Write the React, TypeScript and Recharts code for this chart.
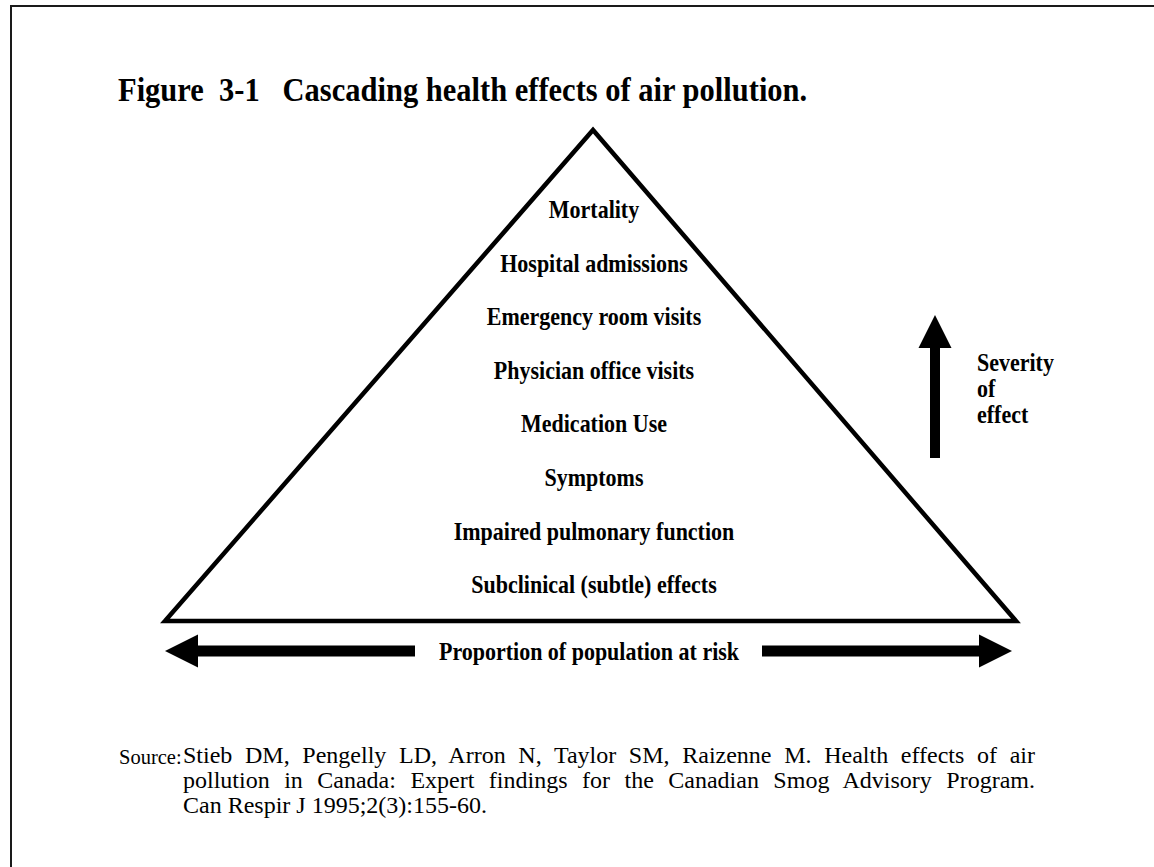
import { ComposedChart, Line, Scatter, XAxis, YAxis } from "recharts";

const WIDTH = 1154;
const HEIGHT = 867;

// pyramid outline: walked round once, then the first edge again so every corner is mitred
const pyramidX = [165, 593, 1016, 165, 593];
const pyramidY = [621, 130, 621, 621, 130];

const effectLabels = [
  "Mortality",
  "Hospital admissions",
  "Emergency room visits",
  "Physician office visits",
  "Medication Use",
  "Symptoms",
  "Impaired pulmonary function",
  "Subclinical (subtle) effects",
];
const effectBaselines = [218, 272, 325, 379, 432, 486, 540, 593];
const effectCenterX = 594;

const severityLines = ["Severity", "of", "effect"];
const severityBaselines = [371, 397, 423];
const severityX = 977;

const populationLabel = "Proportion of population at risk";
const populationX = 589;
const arrowRowY = 651;

// arrow shafts (tail -> base of head)
const leftShaftX = [415, 197];
const rightShaftX = [762, 980];
const upShaftX = 935;
const upShaftY = [458, 346];

// arrow tips
const arrowTips = [
  { x: 165, y: 651, dir: "left" },
  { x: 1012, y: 651, dir: "right" },
  { x: 935, y: 315, dir: "up" },
];

const titleText = "Figure  3-1   Cascading health effects of air pollution.";
const titleX = 118;
const titleBaseline = 101;

const sourceLabel = "Source:";
const sourceLines = [
  "Stieb DM, Pengelly LD, Arron N, Taylor SM, Raizenne M.  Health effects of air",
  "pollution in Canada: Expert findings for the Canadian Smog Advisory Program.",
  "Can Respir J 1995;2(3):155-60.",
];

const FONT = "'Liberation Serif', 'Times New Roman', Times, serif";
// the scanned figure's lettering is a little taller than plain Times at the same width
const STRETCH = 1.1;

const pyramid = pyramidX.map((x, i) => ({ x, y: pyramidY[i] }));
const effects = effectLabels.map((label, i) => ({ x: effectCenterX, y: effectBaselines[i], label }));
const severity = severityLines.map((label, i) => ({ x: severityX, y: severityBaselines[i], label }));
const population = [{ x: populationX, y: arrowRowY + 9, label: populationLabel }];
const title = [{ x: titleX, y: titleBaseline, label: titleText }];
const leftShaft = leftShaftX.map((x) => ({ x, y: arrowRowY }));
const rightShaft = rightShaftX.map((x) => ({ x, y: arrowRowY }));
const upShaft = upShaftY.map((y) => ({ x: upShaftX, y }));

function textShape(size: number, weight: string, anchor: "start" | "middle", stretch = STRETCH) {
  return (props: any) => {
    const { cx, cy, payload } = props;
    return (
      <text
        transform={`translate(${cx} ${cy}) scale(1 ${stretch})`}
        x={0}
        y={0}
        textAnchor={anchor}
        fontFamily={FONT}
        fontSize={size}
        fontWeight={weight}
        fill="#000"
        style={{ whiteSpace: "pre" }}
      >
        {payload.label}
      </text>
    );
  };
}

function ArrowHead(props: any) {
  const { cx, cy, payload } = props;
  const len = 33;
  const half = 16.5;
  let pts = "";
  if (payload.dir === "left") pts = `${cx},${cy} ${cx + len},${cy - half} ${cx + len},${cy + half}`;
  if (payload.dir === "right") pts = `${cx},${cy} ${cx - len},${cy - half} ${cx - len},${cy + half}`;
  if (payload.dir === "up") pts = `${cx},${cy} ${cx - half},${cy + len} ${cx + half},${cy + len}`;
  return <polygon points={pts} fill="#000" />;
}

export default function App() {
  return (
    <div
      style={{
        position: "absolute",
        left: 0,
        top: 0,
        width: WIDTH,
        height: HEIGHT,
        background: "#fff",
        overflow: "hidden",
      }}
    >
      <div
        style={{
          position: "absolute",
          left: 10,
          top: 5,
          right: -4,
          bottom: -4,
          borderTop: "2px solid #1a1a1a",
          borderLeft: "2px solid #1a1a1a",
        }}
      />
      <div style={{ position: "absolute", left: 0, top: 0 }}>
        <ComposedChart
          width={WIDTH}
          height={HEIGHT}
          margin={{ top: 0, right: 0, bottom: 0, left: 0 }}
          accessibilityLayer={false}
        >
          <XAxis type="number" dataKey="x" domain={[0, WIDTH]} hide allowDataOverflow />
          <YAxis type="number" domain={[0, HEIGHT]} reversed hide allowDataOverflow />
          <Line
            data={pyramid}
            dataKey="y"
            type="linear"
            stroke="#000"
            strokeWidth={4.5}
            strokeLinejoin="miter"
            dot={false}
            activeDot={false}
            isAnimationActive={false}
          />
          <Line data={leftShaft} dataKey="y" type="linear" stroke="#000" strokeWidth={11} dot={false} activeDot={false} isAnimationActive={false} />
          <Line data={rightShaft} dataKey="y" type="linear" stroke="#000" strokeWidth={11} dot={false} activeDot={false} isAnimationActive={false} />
          <Line data={upShaft} dataKey="y" type="linear" stroke="#000" strokeWidth={10} dot={false} activeDot={false} isAnimationActive={false} />
          <Scatter data={arrowTips} dataKey="y" shape={ArrowHead} isAnimationActive={false} />
          <Scatter data={effects} dataKey="y" shape={textShape(22, "bold", "middle")} isAnimationActive={false} />
          <Scatter data={severity} dataKey="y" shape={textShape(22, "bold", "start")} isAnimationActive={false} />
          <Scatter data={population} dataKey="y" shape={textShape(22, "bold", "middle")} isAnimationActive={false} />
          <Scatter data={title} dataKey="y" shape={textShape(30.5, "bold", "start", 1.12)} isAnimationActive={false} />
        </ComposedChart>
      </div>
      {/* source note: hanging label, first two lines justified */}
      <div
        style={{
          position: "absolute",
          left: 119,
          top: 745,
          fontFamily: FONT,
          fontSize: 20.5,
          lineHeight: "25px",
          color: "#000",
        }}
      >
        {sourceLabel}
      </div>
      <div
        style={{
          position: "absolute",
          left: 183,
          top: 743,
          width: 852,
          fontFamily: FONT,
          fontSize: 24,
          lineHeight: "25px",
          color: "#000",
        }}
      >
        {sourceLines.map((line, i) => {
          const last = i === sourceLines.length - 1;
          return (
            <div
              key={i}
              style={{
                whiteSpace: last ? "nowrap" : "normal",
                textAlign: last ? "left" : "justify",
                textAlignLast: last ? "left" : "justify",
              }}
            >
              {line}
            </div>
          );
        })}
      </div>
    </div>
  );
}
